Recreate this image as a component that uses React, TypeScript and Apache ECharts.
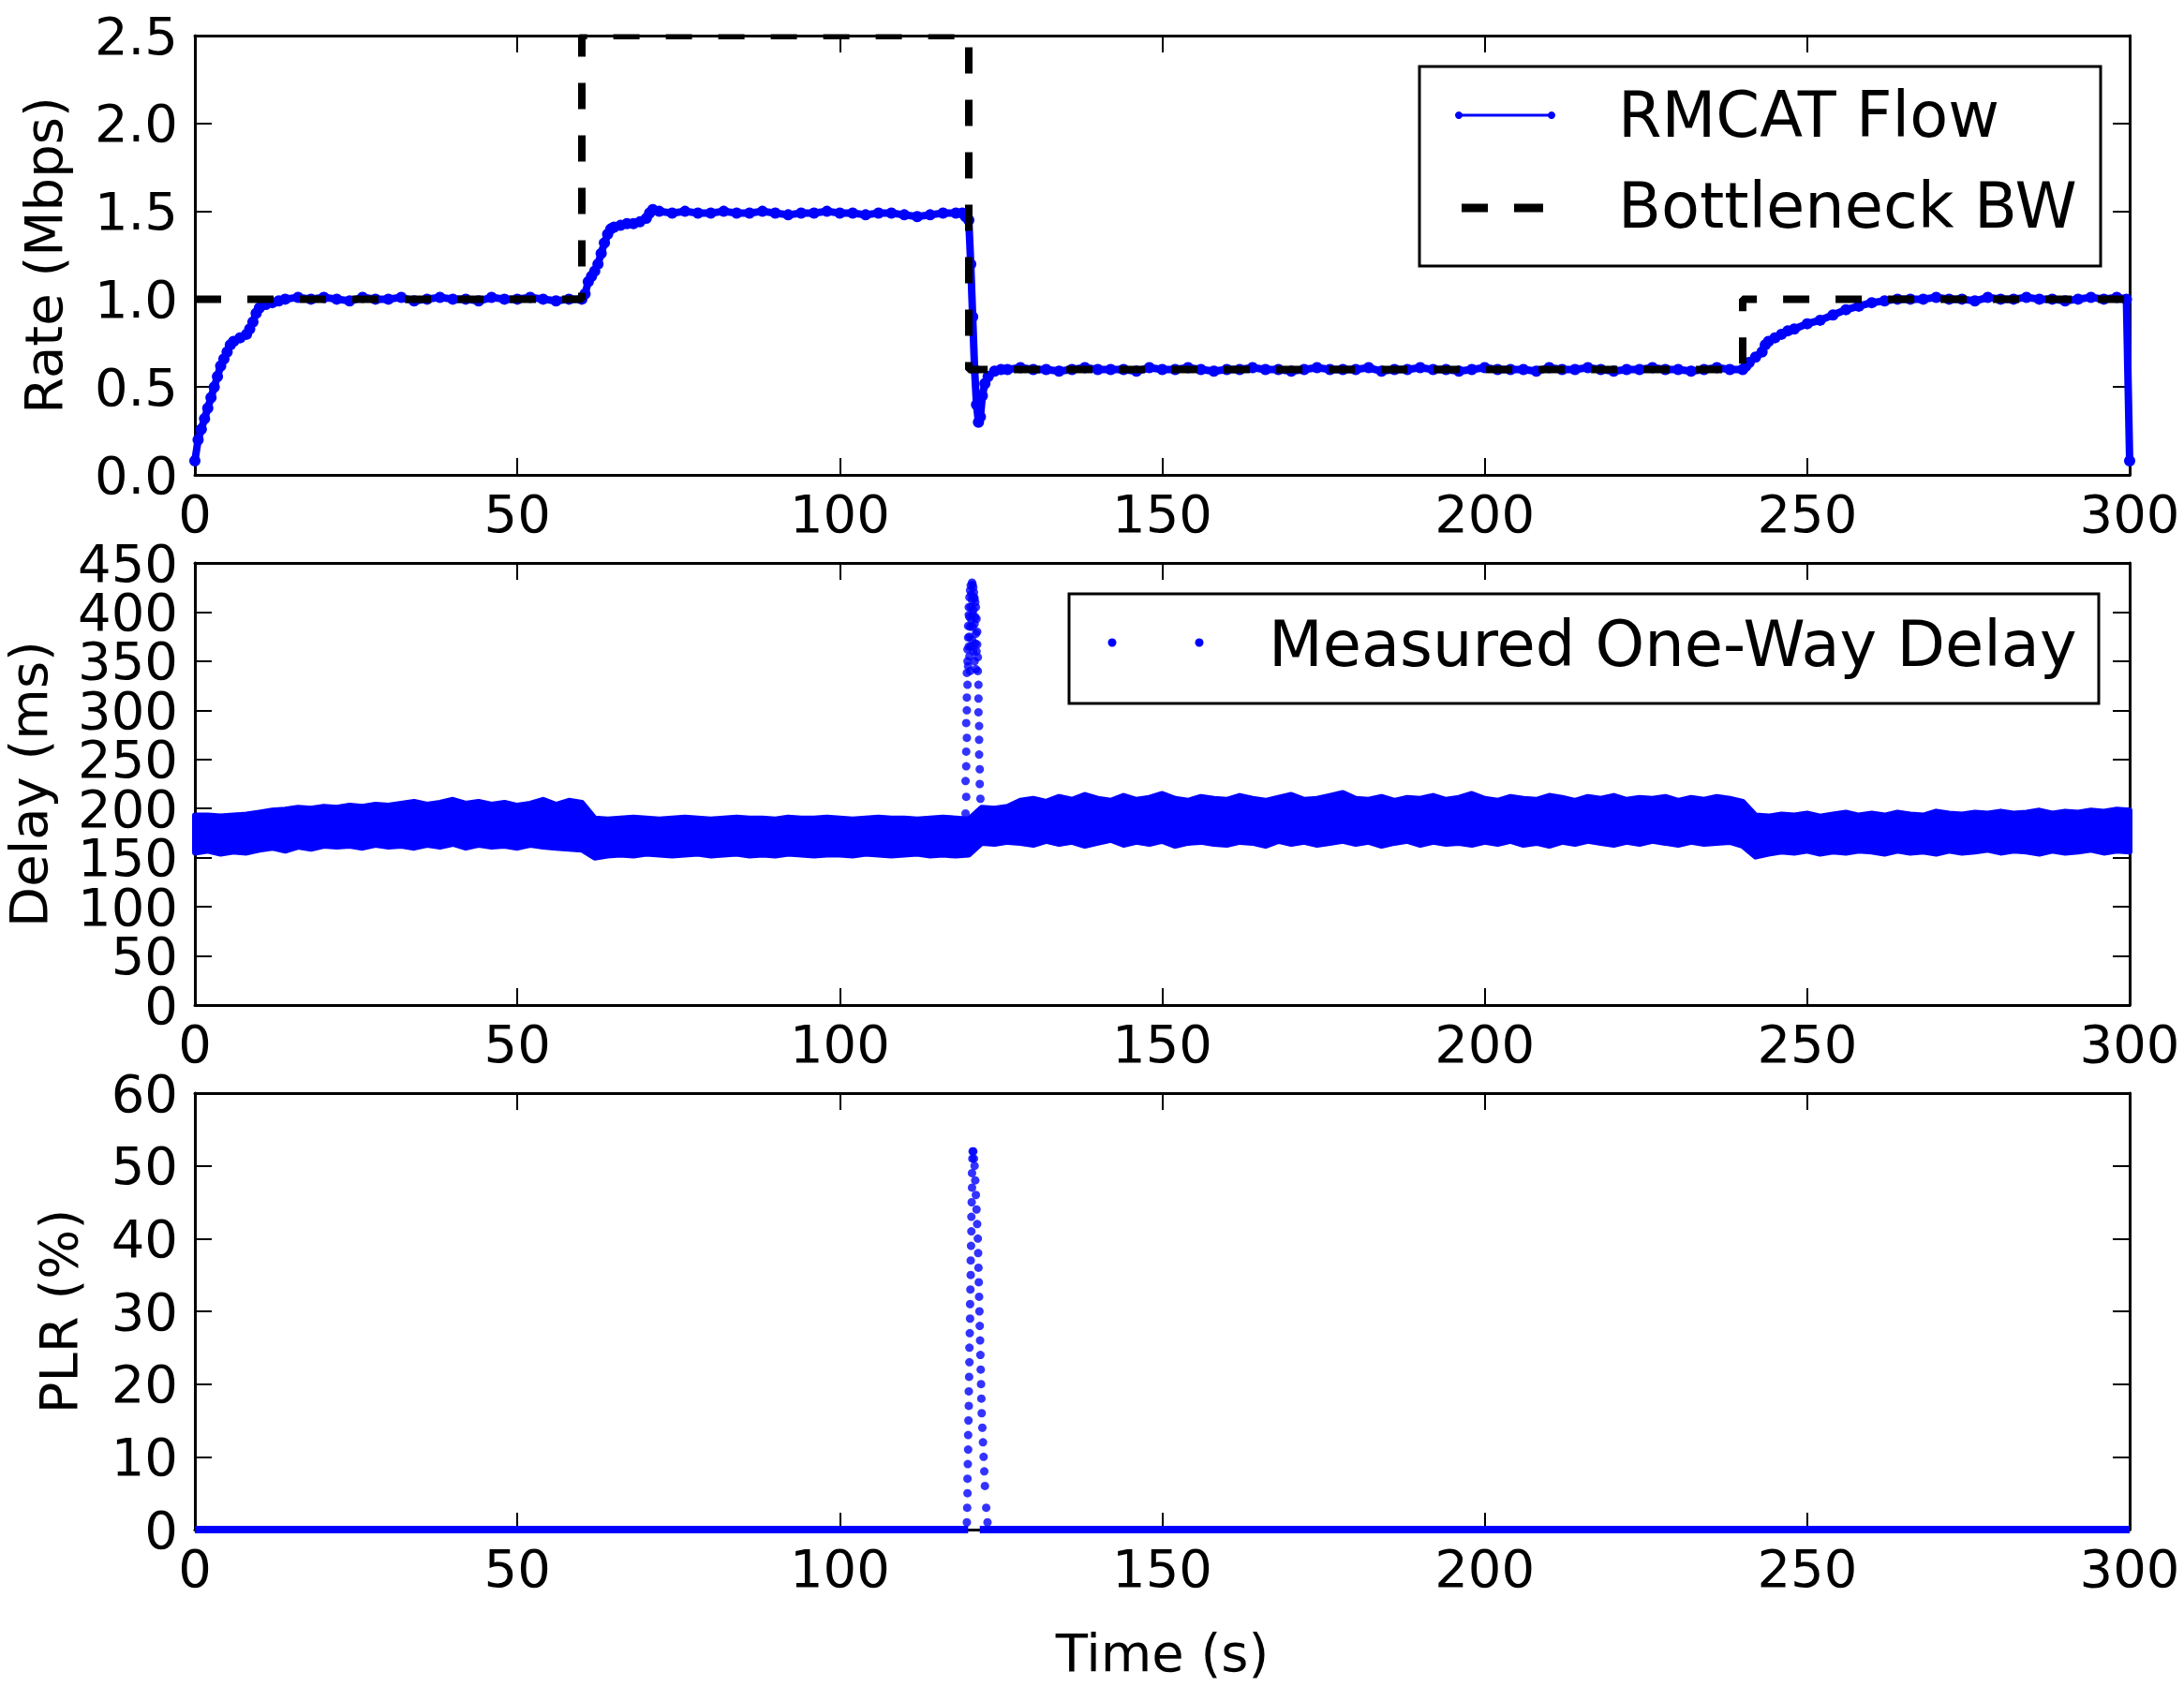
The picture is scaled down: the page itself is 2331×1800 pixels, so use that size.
import React, { useEffect, useRef } from 'react';
import * as echarts from 'echarts';

const FONT = 'DejaVu Sans';
const BLUE = '#0000ff';

// ---- Top panel: RMCAT flow sending rate and bottleneck capacity (Mbps) ----
const rateTimes = [
  0, 0.5, 1, 1.5, 2, 2.5, 3, 3.5, 4, 4.5, 5, 5.5, 6, 7, 8, 8.5, 9, 9.5, 10, 11, 12, 13, 14,
  16, 18, 20, 22, 24, 26, 28, 30, 32, 34, 36, 38, 40, 42, 44, 46, 48, 50, 52, 54, 56, 58,
  60, 60.5, 61, 61.5, 62, 62.5, 63, 63.5, 64, 64.5, 65, 66, 67, 68, 69, 70, 70.5, 71, 72,
  74, 76, 78, 80, 82, 84, 86, 88, 90, 92, 94, 96, 98, 100, 102, 104, 106, 108, 110, 112, 114, 116, 118,
  119, 119.5, 120, 120.3, 120.6, 120.9, 121.2, 121.5, 121.8, 122.1, 122.5, 123, 124, 125, 126,
  128, 130, 132, 134, 136, 138, 140, 142, 144, 146, 148, 150, 152, 154, 156, 158, 160, 162, 164, 166,
  168, 170, 172, 174, 176, 178, 180, 182, 184, 186, 188, 190, 192, 194, 196, 198, 200, 202, 204, 206,
  208, 210, 212, 214, 216, 218, 220, 222, 224, 226, 228, 230, 232, 234, 236, 238,
  240, 240.5, 241, 242, 243, 243.5, 244, 245, 246, 247, 248, 250, 252, 254, 256, 258, 260, 262, 264, 266,
  268, 270, 272, 274, 276, 278, 280, 282, 284, 286, 288, 290, 292, 294, 296, 298,
  299.5, 300,
];
const rateMbps = [
  0.08, 0.2, 0.26, 0.32, 0.38, 0.44, 0.5, 0.56, 0.62, 0.66, 0.7, 0.74, 0.76, 0.78, 0.8, 0.83, 0.87, 0.92, 0.95, 0.97, 0.98, 0.99, 1.0,
  1.01, 1.0, 1.01, 1.0, 0.99, 1.01, 1.0, 1.0, 1.01, 0.99, 1.0, 1.01, 1.0, 1.0, 0.99, 1.01, 1.0, 1.0, 1.01, 1.0, 0.99, 1.0,
  1.0, 1.03, 1.1, 1.13, 1.16, 1.2, 1.26, 1.32, 1.37, 1.4, 1.41, 1.42, 1.43, 1.43, 1.44, 1.46, 1.49, 1.51, 1.5,
  1.49, 1.5, 1.49, 1.49, 1.5, 1.49, 1.49, 1.5, 1.49, 1.48, 1.49, 1.49, 1.5, 1.49, 1.49, 1.48, 1.49, 1.49, 1.48, 1.47, 1.48, 1.49, 1.49,
  1.49, 1.47, 1.45, 1.2, 0.9, 0.6, 0.4, 0.3, 0.33, 0.45, 0.52, 0.56, 0.59, 0.6, 0.6,
  0.61, 0.6, 0.6, 0.59, 0.6, 0.61, 0.6, 0.6, 0.6, 0.59, 0.61, 0.6, 0.6, 0.61, 0.6, 0.59, 0.6, 0.6, 0.61, 0.6,
  0.6, 0.59, 0.6, 0.61, 0.6, 0.6, 0.6, 0.61, 0.59, 0.6, 0.6, 0.61, 0.6, 0.6, 0.59, 0.6, 0.61, 0.6, 0.6, 0.6,
  0.59, 0.61, 0.6, 0.6, 0.61, 0.6, 0.59, 0.6, 0.6, 0.61, 0.6, 0.6, 0.59, 0.6, 0.61, 0.6,
  0.6, 0.62, 0.64, 0.67, 0.7, 0.74, 0.76, 0.78, 0.8, 0.82, 0.83, 0.86, 0.88, 0.91, 0.94, 0.96, 0.98, 0.99, 1.0, 1.0,
  1.0, 1.01, 1.0, 1.0, 0.99, 1.01, 1.0, 1.0, 1.01, 1.0, 1.0, 0.99, 1.0, 1.01, 1.0, 1.01,
  1.0, 0.08,
];

const bwTimes = [0, 60, 60, 120, 120, 240, 240, 300];
const bwMbps = [1.0, 1.0, 2.5, 2.5, 0.6, 0.6, 1.0, 1.0];

// ---- Middle panel: one-way delay spread, one envelope sample every 2 s (ms) ----
const delayStepS = 2;
const delayHigh = [
  193, 193, 192, 193, 194, 196, 198, 199, 201, 200,
  202, 201, 203, 202, 204, 203, 205, 207, 204, 206,
  209, 205, 207, 204, 206, 203, 205, 209, 204, 208,
  206, 190, 189, 190, 191, 190, 189, 190, 191, 190,
  189, 190, 191, 190, 190, 189, 191, 190, 190, 191,
  190, 189, 190, 191, 190, 190, 189, 190, 191, 190,
  189, 201, 200, 202, 208, 210, 207, 212, 209, 214,
  210, 208, 213, 209, 211, 215, 210, 208, 212, 210,
  209, 213, 210, 208, 211, 214, 209, 210, 213, 216,
  210, 209, 212, 208, 211, 210, 213, 209, 211, 215,
  210, 208, 212, 210, 209, 213, 211, 208, 212, 210,
  213, 209, 211, 210, 212, 208, 211, 209, 212, 210,
  207, 193, 192, 194, 193, 195, 192, 194, 196, 193,
  195, 193, 196, 194, 193, 197, 195, 194, 196, 195,
  197, 195, 196, 198, 195, 197, 196, 198, 197, 199,
  198,
];
const delayLow = [
  155, 157, 154, 156, 155, 158, 160, 157, 161, 159,
  162, 161, 162, 160, 163, 161, 162, 160, 163, 161,
  164, 160, 163, 161, 162, 160, 163, 161, 160, 159,
  158, 150, 152, 153, 152, 154, 153, 152, 153, 154,
  152, 153, 154, 152, 153, 152, 154, 153, 152, 153,
  153, 152, 154, 153, 152, 153, 154, 152, 153, 152,
  153, 165, 164, 166, 165, 163, 167, 164, 166, 162,
  165, 168, 163, 166, 164, 167, 162, 165, 166, 164,
  163, 166, 165, 162, 167, 164, 166, 163, 165, 167,
  164, 166, 162, 165, 167, 163, 166, 164, 165, 163,
  166, 164, 167, 163, 165, 162, 166, 164, 167, 165,
  163, 166, 164, 167, 165, 163, 166, 164, 165, 166,
  162, 151, 154, 156, 155, 157, 154, 156, 155, 157,
  156, 154, 157, 155, 156, 154, 157, 155, 156, 158,
  155, 157, 156, 154, 157, 155, 156, 158, 155, 157,
  156,
];

// Delay samples during the queue build-up after the capacity drop at 120 s
const spikeTimes = [
  // rising edge
  119.5, 119.6, 119.5, 119.6, 119.6, 119.7, 119.6, 119.7, 119.7, 119.8, 119.7, 119.8, 119.8, 119.9, 119.9, 120.0,
  // draining edge
  121.8, 121.7, 121.7, 121.6, 121.6, 121.6, 121.5, 121.5, 121.5, 121.4, 121.4, 121.3, 121.3, 121.2, 121.1,
  // peak
  120.0, 120.1, 120.2, 120.3, 120.5, 120.6, 120.7, 120.8, 120.9, 121.0, 120.1, 120.3, 120.5, 120.7,
  120.2, 120.4, 120.6, 120.9, 121.0, 120.1, 121.1, 120.4, 120.8,
  119.9, 120.1, 120.3, 120.5, 120.7, 120.9, 121.1, 121.2, 120.2, 120.6, 120.0, 121.0,
];
const spikeDelays = [
  195, 212, 228, 243, 258, 272, 287, 300, 313, 326, 338, 350, 362, 374, 386, 397,
  210, 225, 240, 255, 270, 284, 298, 312, 326, 340, 354, 367, 380, 393, 405,
  405, 415, 422, 427, 430, 428, 425, 420, 414, 410, 395, 405, 412, 402,
  385, 392, 398, 388, 395, 375, 378, 418, 415,
  345, 355, 365, 372, 360, 350, 342, 360, 340, 385, 365, 368,
];

// ---- Bottom panel: packet loss ratio (%) ----
const plrFloorSegments = [
  [0, 119.9],
  [121.7, 300],
];
const plrRiseTimes = [
  119.7, 119.75, 119.8, 119.8, 119.85, 119.9, 119.9, 119.95, 120.0, 120.0, 120.05, 120.1, 120.1, 120.15,
  120.2, 120.2, 120.25, 120.3, 120.3, 120.35, 120.4, 120.4, 120.45, 120.5, 120.5, 120.55, 120.6,
];
const plrRiseValues = [
  1, 3, 5, 7, 9, 11, 13, 15, 17, 19, 21, 23, 25, 27,
  29, 31, 33, 35, 37, 39, 41, 43, 45, 47, 49, 51, 52,
];
const plrFallTimes = [
  120.7, 120.8, 120.9, 121.0, 121.1, 121.2, 121.3, 121.4, 121.45, 121.5, 121.55, 121.6, 121.65, 121.7,
  121.75, 121.8, 121.85, 121.9, 121.95, 122.0, 122.1, 122.2, 122.3, 122.4, 122.5, 122.7, 122.9,
];
const plrFallValues = [
  52, 51, 50, 48, 46, 44, 42, 40, 38, 36, 34, 32, 30, 28,
  26, 24, 22, 20, 18, 16, 14, 12, 10, 8, 6, 3, 1,
];

const zip = (xs: number[], ys: number[]) => xs.map((x, i) => [x, ys[i]]);

const GRID_LEFT = 208;
const GRID_W = 2065;
const GRID_TOP = [38, 601, 1167];
const GRID_H = [469, 472, 466];
const grids = GRID_TOP.map((top, i) => ({
  left: GRID_LEFT, top, width: GRID_W, height: GRID_H[i], containLabel: false, outerBoundsMode: 'none',
}));

const tickStyle = { show: true, inside: true, length: 18, lineStyle: { color: '#000', width: 2 } };
const spine = { show: true, onZero: false, lineStyle: { color: '#000', width: 3 } };
const labelText = { fontSize: 56, color: '#000', fontFamily: FONT };
const tickLabel = { ...labelText, lineHeight: 46, hideOverlap: false };

function xAxes(gridIndex: number, name: string) {
  return [
    {
      type: 'value', gridIndex, position: 'bottom', min: 0, max: 300, interval: 50,
      axisLine: spine, axisTick: tickStyle, splitLine: { show: false },
      axisLabel: { ...tickLabel, margin: 18, showMinLabel: true, showMaxLabel: true },
      name, nameLocation: 'middle', nameGap: 103, nameTextStyle: labelText,
    },
    {
      type: 'value', gridIndex, position: 'top', min: 0, max: 300, interval: 50, z: 5,
      axisLine: spine, axisTick: tickStyle, splitLine: { show: false }, axisLabel: { show: false },
    },
  ];
}

type Fmt = (v: number) => string;

function leftY(gridIndex: number, max: number, interval: number, fmt: Fmt, extra: object) {
  return {
    type: 'value', gridIndex, position: 'left', min: 0, max, interval,
    axisLine: spine, axisTick: tickStyle, splitLine: { show: false },
    axisLabel: { ...tickLabel, margin: 18, showMinLabel: true, showMaxLabel: true, formatter: fmt },
    nameLocation: 'middle', nameTextStyle: labelText,
    ...extra,
  };
}

function rightY(gridIndex: number, max: number, interval: number) {
  return {
    type: 'value', gridIndex, position: 'right', min: 0, max, interval,
    axisLine: spine, axisTick: tickStyle, splitLine: { show: false }, axisLabel: { show: false },
  };
}

// Delay ticks sit only ~52 px apart, so their labels are split over two
// coincident left axes (hundreds on one, fifties on the other).
const isHundred = (v: number) => Math.round(v) % 100 === 0;

function buildYAxes() {
  return [
    leftY(0, 2.5, 0.5, (v) => v.toFixed(1), { name: 'Rate (Mbps)', nameGap: 134 }),
    rightY(0, 2.5, 0.5),
    leftY(1, 450, 50, (v) => (isHundred(v) ? String(v) : ''), { name: 'Delay (ms)', nameGap: 150 }),
    rightY(1, 450, 50),
    leftY(2, 60, 10, (v) => String(v), { name: 'PLR (%)', nameGap: 118 }),
    rightY(2, 60, 10),
    {
      ...leftY(1, 450, 50, (v) => (isHundred(v) ? '' : String(v)), {}),
      axisLine: { show: false }, axisTick: { show: false },
    },
  ];
}

function legendGraphics() {
  const text = (t: string, x: number, y: number) => ({
    type: 'text', x, y, z: 101,
    style: { text: t, fontSize: 67, fontFamily: FONT, fill: '#000', align: 'left', verticalAlign: 'middle' },
  });
  return [
    // Lines in matplotlib are clipped at the axes frame: hide the half of the
    // dashed capacity line that would poke above the top spine.
    { type: 'rect', z: 60, silent: true, shape: { x: 210, y: 0, width: 2062, height: 36.5 }, style: { fill: '#fff' } },
    // Rate legend
    { type: 'rect', z: 100, shape: { x: 1515, y: 71, width: 727, height: 213 }, style: { fill: '#fff', stroke: '#000', lineWidth: 3 } },
    { type: 'line', z: 101, shape: { x1: 1557, y1: 123, x2: 1656, y2: 123 }, style: { stroke: BLUE, lineWidth: 3 } },
    { type: 'circle', z: 101, shape: { cx: 1557, cy: 123, r: 4 }, style: { fill: BLUE } },
    { type: 'circle', z: 101, shape: { cx: 1656, cy: 123, r: 4 }, style: { fill: BLUE } },
    text('RMCAT Flow', 1727, 123),
    { type: 'line', z: 101, shape: { x1: 1560, y1: 222, x2: 1588, y2: 222 }, style: { stroke: '#000', lineWidth: 9 } },
    { type: 'line', z: 101, shape: { x1: 1616, y1: 222, x2: 1647, y2: 222 }, style: { stroke: '#000', lineWidth: 9 } },
    text('Bottleneck BW', 1727, 220),
    // Delay legend
    { type: 'rect', z: 100, shape: { x: 1141, y: 634, width: 1099, height: 117 }, style: { fill: '#fff', stroke: '#000', lineWidth: 3 } },
    { type: 'circle', z: 101, shape: { cx: 1187, cy: 686, r: 4.5 }, style: { fill: BLUE } },
    { type: 'circle', z: 101, shape: { cx: 1280, cy: 686, r: 4.5 }, style: { fill: BLUE } },
    text('Measured One-Way Delay', 1354, 688),
  ];
}

function buildOption() {
  const delayTimes = delayHigh.map((_, i) => i * delayStepS);
  return {
    animation: false,
    backgroundColor: '#fff',
    grid: grids,
    xAxis: [...xAxes(0, ''), ...xAxes(1, ''), ...xAxes(2, 'Time (s)')],
    yAxis: buildYAxes(),
    graphic: legendGraphics(),
    series: [
      {
        name: 'RMCAT Flow', type: 'line', xAxisIndex: 0, yAxisIndex: 0, z: 3,
        data: zip(rateTimes, rateMbps),
        symbol: 'circle', symbolSize: 12, showSymbol: true,
        itemStyle: { color: BLUE }, lineStyle: { color: BLUE, width: 8 },
      },
      {
        name: 'Bottleneck BW', type: 'line', xAxisIndex: 0, yAxisIndex: 0, z: 4,
        data: zip(bwTimes, bwMbps), symbol: 'none',
        lineStyle: { color: '#000', width: 8, type: [28, 28], cap: 'butt' },
      },
      {
        name: 'Measured One-Way Delay', type: 'custom', xAxisIndex: 2, yAxisIndex: 2, z: 3,
        data: [[0, 0]],
        renderItem: (_params: any, api: any) => {
          const upper = delayTimes.map((t, i) => api.coord([t, delayHigh[i]]));
          const lower = delayTimes.map((t, i) => api.coord([t, delayLow[i]])).reverse();
          return {
            type: 'polygon',
            shape: { points: upper.concat(lower) },
            style: { fill: BLUE, stroke: BLUE, lineWidth: 6, lineJoin: 'round' },
          };
        },
      },
      {
        name: 'Delay spike', type: 'scatter', xAxisIndex: 2, yAxisIndex: 2, z: 3,
        data: zip(spikeTimes, spikeDelays), symbolSize: 9, itemStyle: { color: BLUE },
      },
      ...plrFloorSegments.map((seg) => ({
        name: 'PLR floor', type: 'line', xAxisIndex: 4, yAxisIndex: 4, z: 3,
        data: seg.map((t) => [t, 0]), symbol: 'none',
        lineStyle: { color: BLUE, width: 8 },
      })),
      {
        name: 'PLR rise', type: 'scatter', xAxisIndex: 4, yAxisIndex: 4, z: 3,
        data: zip(plrRiseTimes, plrRiseValues), symbolSize: 9, itemStyle: { color: BLUE },
      },
      {
        name: 'PLR fall', type: 'scatter', xAxisIndex: 4, yAxisIndex: 4, z: 3,
        data: zip(plrFallTimes, plrFallValues), symbolSize: 9, itemStyle: { color: BLUE },
      },
    ],
  };
}

export default function App() {
  const ref = useRef<HTMLDivElement>(null);
  useEffect(() => {
    if (!ref.current) return;
    const chart = echarts.init(ref.current, undefined, { renderer: 'svg' });
    chart.setOption(buildOption() as any);
    return () => chart.dispose();
  }, []);
  return (
    <div
      ref={ref}
      style={{ position: 'absolute', left: 0, top: 0, width: 2331, height: 1800, background: '#fff' }}
    />
  );
}
